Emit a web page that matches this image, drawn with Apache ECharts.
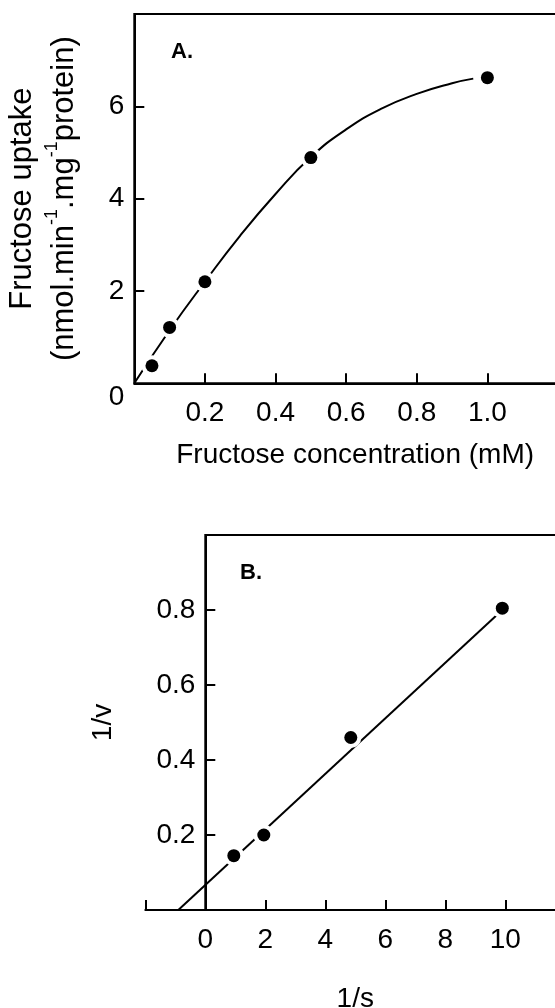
<!DOCTYPE html>
<html>
<head>
<meta charset="utf-8">
<script src="https://cdn.jsdelivr.net/npm/echarts@6/dist/echarts.min.js"></script>
<style>
  html, body { margin: 0; background: #fff; }
  #chart { width: 555px; height: 1008px; }
</style>
</head>
<body>
<div id="chart"></div>
<script>
// panel A: fructose uptake against fructose concentration
const concA = [0.05, 0.1, 0.2, 0.5, 1.0]
const uptakeA = [0.38, 1.21, 2.2, 4.89, 6.62]
// hand-drawn curve of panel A
const curveX = [0, 0.1, 0.2, 0.3, 0.4, 0.5, 0.6, 0.7, 0.8, 0.9, 0.96]
const curveY = [0, 1.15, 2.2, 3.2, 4.1, 4.9, 5.5, 5.95, 6.27, 6.5, 6.6]
// panel B: double reciprocal plot
const invS = [0.95, 1.95, 4.85, 9.9]
const invV = [0.145, 0.2, 0.46, 0.805]
const fitX = [-0.9, 9.9]
const fitY = [0, 0.8]
// tick labels that are printed
const xLabelsA = ['0.2', '0.4', '0.6', '0.8', '1.0']
const yLabelsA = ['0', '2', '4', '6']
const xLabelsB = ['0', '2', '4', '6', '8', '10']
const yLabelsB = ['0.2', '0.4', '0.6', '0.8']

const font = 'Liberation Sans'
const black = '#000'

const pairs = (xs, ys) => xs.map((x, i) => [x, ys[i]])
const pick = (labels, digits) => v => {
  const s = v.toFixed(digits)
  return labels.indexOf(s) >= 0 ? s : ''
}

const axisBase = {
  type: 'value',
  axisLine: { onZero: false, lineStyle: { color: black, width: 2 } },
  axisTick: { inside: true, length: 10, lineStyle: { color: black, width: 2 } },
  splitLine: { show: false },
  axisLabel: { color: black, fontSize: 28, fontFamily: font }
}

function dots(xi, data) {
  return [{
    type: 'scatter', xAxisIndex: xi, yAxisIndex: xi, data,
    symbolSize: 21, itemStyle: { color: '#fff', opacity: 1 }, silent: true, z: 3
  }, {
    type: 'scatter', xAxisIndex: xi, yAxisIndex: xi, data,
    symbolSize: 13, itemStyle: { color: black, opacity: 1 }, z: 4
  }]
}

const panelLabel = { fontSize: 22, fontWeight: 'bold', fontFamily: font, color: black }

const chart = echarts.init(document.getElementById('chart'))
chart.setOption({
  animation: false,
  backgroundColor: '#fff',
  title: [
    { text: 'A.', left: 171, top: 41, padding: 0, textStyle: panelLabel },
    { text: 'B.', left: 240, top: 562, padding: 0, textStyle: panelLabel }
  ],
  grid: [
    { left: 134.3, top: 14, right: -3, bottom: 624.7, outerBoundsMode: 'none',
      show: true, borderColor: black, borderWidth: 2 },
    // panel B, x axis reaches left of the 1/v axis
    { left: 145.3, top: 535, right: -10.3, bottom: 98, outerBoundsMode: 'none' },
    // frame of panel B, starting at the 1/v axis
    { left: 205.3, top: 535, right: -10.3, bottom: 98, outerBoundsMode: 'none',
      show: true, borderColor: black, borderWidth: 2 }
  ],
  xAxis: [
    Object.assign({}, axisBase, {
      gridIndex: 0, min: 0, max: 1.2, interval: 0.2,
      axisLabel: Object.assign({}, axisBase.axisLabel, { margin: 16, formatter: pick(xLabelsA, 1) }),
      name: 'Fructose concentration (mM)', nameLocation: 'middle', nameGap: 58,
      nameTextStyle: { color: black, fontSize: 28, fontFamily: font, padding: [0, 0, 0, 18] }
    }),
    Object.assign({}, axisBase, {
      gridIndex: 1, min: -2, max: 12, interval: 2,
      axisLabel: Object.assign({}, axisBase.axisLabel, { margin: 16, formatter: pick(xLabelsB, 0) }),
      name: '1/s', nameLocation: 'middle', nameGap: 75,
      nameTextStyle: { color: black, fontSize: 28, fontFamily: font }
    }),
    { type: 'value', gridIndex: 2, min: 0, max: 12, show: false }
  ],
  yAxis: [
    Object.assign({}, axisBase, {
      gridIndex: 0, min: 0, max: 8, interval: 2,
      axisLabel: Object.assign({}, axisBase.axisLabel, {
        margin: 10,
        formatter: v => {
          const s = pick(yLabelsA, 0)(v)
          return s === '0' ? '{z|0}' : s
        },
        rich: { z: { fontSize: 28, fontFamily: font, color: black, padding: [28, 0, 0, 0] } }
      }),
      name: '{t|Fructose uptake}\n{t|(nmol.min}{s|-1}{t|.mg}{s|-1}{t|protein)}',
      nameLocation: 'middle', nameGap: 49, nameRotate: 90,
      nameTextStyle: {
        color: black, fontFamily: font,
        rich: {
          t: { fontSize: 31, lineHeight: 42, fontFamily: font, color: black },
          s: { fontSize: 18, verticalAlign: 'top', fontFamily: font, color: black }
        }
      }
    }),
    { type: 'value', gridIndex: 1, min: 0, max: 1.0, show: false },
    Object.assign({}, axisBase, {
      gridIndex: 2, min: 0, max: 1.0, interval: 0.2,
      axisLabel: Object.assign({}, axisBase.axisLabel, { margin: 10, formatter: pick(yLabelsB, 1) }),
      name: '1/v', nameLocation: 'middle', nameGap: 88, nameRotate: 90,
      nameTextStyle: { color: black, fontSize: 28, fontFamily: font }
    })
  ],
  series: [
    {
      type: 'line', xAxisIndex: 0, yAxisIndex: 0, data: pairs(curveX, curveY),
      smooth: true, showSymbol: false, symbol: 'none',
      lineStyle: { color: black, width: 2 }, z: 2
    },
    ...dots(0, pairs(concA, uptakeA)),
    {
      type: 'line', xAxisIndex: 1, yAxisIndex: 1, data: pairs(fitX, fitY),
      showSymbol: false, symbol: 'none',
      lineStyle: { color: black, width: 2 }, z: 2
    },
    ...dots(1, pairs(invS, invV))
  ]
})
</script>
</body>
</html>
